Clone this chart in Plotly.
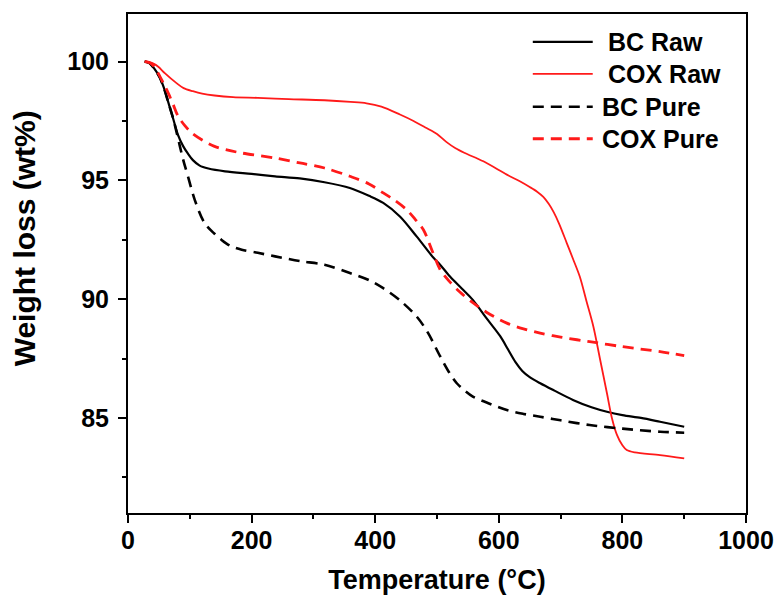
import plotly.graph_objects as go

# Thermogravimetric curves (temperature in °C, remaining weight in wt%)
bc_raw_t = [27, 35, 42, 51, 58, 65, 73, 81, 89, 97, 105, 116, 130, 157, 200, 238, 278, 318,
            359, 390, 413, 440, 467, 494, 505, 521, 540, 558, 580, 602, 615, 627, 638,
            650, 667, 690, 720, 750, 775, 800, 830, 861, 900]
bc_raw_w = [100, 99.93, 99.72, 99.35, 98.9, 98.3, 97.6, 96.9, 96.45, 96.12, 95.85, 95.62,
            95.5, 95.38, 95.27, 95.17, 95.08, 94.92, 94.68, 94.35, 94.05, 93.48, 92.64,
            91.75, 91.45, 90.95, 90.45, 89.97, 89.2, 88.45, 87.88, 87.35, 86.98, 86.72,
            86.46, 86.15, 85.76, 85.45, 85.26, 85.12, 85.0, 84.84, 84.63]

cox_raw_t = [27, 35, 42, 49, 60, 78, 90, 105, 120, 140, 170, 210, 260, 318, 360, 386, 410,
             440, 462, 483, 500, 515, 530, 545, 575, 613, 634, 650, 662, 672, 681, 689,
             698, 710, 720, 731, 742, 753, 764, 775, 783, 791, 800, 807, 820, 861, 900]
cox_raw_w = [100, 99.97, 99.9, 99.78, 99.5, 99.1, 98.88, 98.75, 98.65, 98.57, 98.5, 98.47,
             98.42, 98.37, 98.3, 98.24, 98.1, 97.77, 97.5, 97.2, 96.95, 96.62, 96.35,
             96.15, 95.8, 95.24, 94.96, 94.72, 94.52, 94.3, 94.0, 93.65, 93.15, 92.36,
             91.7, 90.95, 89.9, 88.85, 87.45, 86.04, 85.0, 84.3, 83.85, 83.65, 83.55,
             83.44, 83.3]

bc_pure_t = [27, 35, 42, 51, 58, 65, 72, 77, 84, 90, 97, 108, 124, 140, 151, 165, 184, 210,
             238, 278, 318, 359, 390, 413, 440, 467, 485, 505, 520, 532, 545, 558, 585,
             613, 640, 667, 700, 747, 800, 861, 900]
bc_pure_w = [100, 99.93, 99.72, 99.35, 98.9, 98.3, 97.7, 97.2, 96.43, 95.8, 95.17, 94.18,
             93.2, 92.75, 92.5, 92.25, 92.08, 91.95, 91.8, 91.6, 91.45, 91.1, 90.8, 90.46,
             89.95, 89.27, 88.6, 87.6, 86.9, 86.46, 86.15, 85.9, 85.6, 85.33, 85.17,
             85.05, 84.9, 84.7, 84.55, 84.42, 84.38]

cox_pure_t = [27, 35, 42, 49, 57, 65, 73, 81, 92, 103, 120, 140, 160, 184, 238, 278, 318,
              359, 390, 413, 432, 451, 465, 478, 492, 505, 520, 537, 558, 580, 613, 640,
              667, 700, 747, 800, 861, 900]
cox_pure_w = [100, 99.95, 99.8, 99.5, 99.1, 98.68, 98.2, 97.7, 97.3, 97.0, 96.7, 96.43,
              96.28, 96.15, 95.94, 95.73, 95.52, 95.17, 94.85, 94.47, 94.15, 93.76, 93.35,
              92.92, 92.05, 91.25, 90.75, 90.3, 89.85, 89.45, 88.99, 88.75, 88.57, 88.4,
              88.21, 88.0, 87.79, 87.62]

series_names = ["BC Raw", "COX Raw", "BC Pure", "COX Pure"]
x_ticks = [0, 200, 400, 600, 800, 1000]
y_ticks = [85, 90, 95, 100]

FONT = "Liberation Sans, Arial, sans-serif"
RED = "#ff1a1a"
DASH = "11px,7px"

styles = [
    dict(color="black", width=2.2, dash="solid"),
    dict(color=RED, width=1.8, dash="solid"),
    dict(color="black", width=2.6, dash=DASH),
    dict(color=RED, width=2.8, dash=DASH),
]
data = [(bc_raw_t, bc_raw_w), (cox_raw_t, cox_raw_w),
        (bc_pure_t, bc_pure_w), (cox_pure_t, cox_pure_w)]

fig = go.Figure()
for name, (t, w), st in zip(series_names, data, styles):
    fig.add_trace(go.Scatter(
        x=t, y=w, mode="lines", name=name, showlegend=False,
        line=dict(color=st["color"], width=st["width"], dash=st["dash"],
                  shape="spline", smoothing=0.9),
    ))

# Hand-built legend in the upper right of the frame
leg_x0, leg_x1 = 0.655, 0.752
leg_rows = [0.944, 0.880, 0.814, 0.750]
leg_text_x = [0.774, 0.774, 0.763, 0.763]
for name, st, yy, tx in zip(series_names, styles, leg_rows, leg_text_x):
    fig.add_shape(type="line", xref="paper", yref="paper",
                  x0=leg_x0, x1=leg_x1, y0=yy, y1=yy,
                  line=dict(color=st["color"], width=st["width"],
                            dash=st["dash"]))
    fig.add_annotation(xref="paper", yref="paper", x=tx, y=yy, text=name,
                       showarrow=False, xanchor="left", yanchor="middle",
                       font=dict(family=FONT, size=25, color="black",
                                 weight="bold"))

# Rotated y-axis title
fig.add_annotation(xref="paper", yref="paper", x=-0.167, y=0.55,
                   text="Weight loss (wt%)", textangle=-90, showarrow=False,
                   xanchor="center", yanchor="middle",
                   font=dict(family=FONT, size=30, color="black", weight="bold"))

axis_common = dict(
    showline=True, linecolor="black", linewidth=2, mirror=True,
    ticks="outside", ticklen=8, tickwidth=2, tickcolor="black",
    showgrid=False, zeroline=False, automargin=False,
    tickfont=dict(family=FONT, size=25, color="black", weight="bold"),
)

fig.update_xaxes(
    range=[0, 1000], tickvals=x_ticks, ticktext=[str(v) for v in x_ticks],
    minor=dict(dtick=100, tick0=0, ticklen=4, tickwidth=2, tickcolor="black",
               ticks="outside"),
    ticklabelstandoff=-4,
    title=dict(text="Temperature (\u00b0C)", standoff=17,
               font=dict(family=FONT, size=27, color="black", weight="bold")),
    **axis_common,
)
fig.update_yaxes(
    range=[81, 102], tickvals=y_ticks, ticktext=[str(v) for v in y_ticks],
    minor=dict(dtick=2.5, tick0=80, ticklen=4, tickwidth=2, tickcolor="black",
               ticks="outside"),
    ticklabelstandoff=4,
    **axis_common,
)

fig.update_layout(
    width=779, height=596,
    margin=dict(l=128, r=33, t=14, b=83),
    paper_bgcolor="white", plot_bgcolor="white",
    font=dict(family=FONT, color="black"),
)

fig.write_html("out.html")
